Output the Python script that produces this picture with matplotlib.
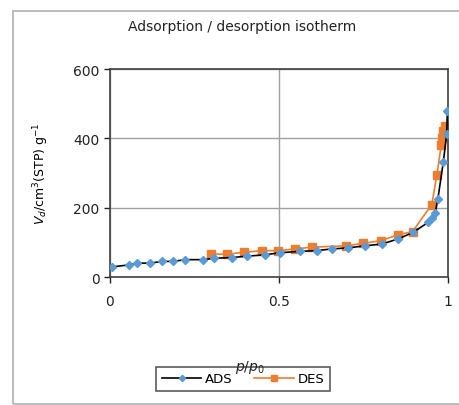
import matplotlib.pyplot as plt
from matplotlib.patches import Rectangle

# adsorption branch
ads_x = [0.005, 0.057, 0.081, 0.118, 0.155, 0.187, 0.222, 0.276, 0.308, 0.36, 0.404,
         0.459, 0.503, 0.562, 0.611, 0.656, 0.705, 0.754, 0.804, 0.853, 0.897, 0.942,
         0.952, 0.962, 0.97, 0.986, 0.996, 0.998]
ads_y = [29, 35, 40, 40, 45, 45, 50, 50, 54, 56, 60,
         64, 70, 74, 76, 81, 84, 90, 95, 110, 129, 158,
         170, 185, 225, 331, 412, 478]

# desorption branch
des_x = [0.299, 0.345, 0.396, 0.449, 0.498, 0.547, 0.598, 0.698, 0.75, 0.802, 0.853,
         0.895, 0.952, 0.967, 0.98, 0.983, 0.986, 0.99]
des_y = [66, 66, 71, 76, 76, 81, 86, 90, 97, 105, 122,
         131, 209, 294, 380, 400, 420, 436]

fig = plt.figure(figsize=(4.6, 4.06), dpi=100)
fig.patches.append(Rectangle((13/460, 1-405/406), 1.0, 393/406, transform=fig.transFigure,
                             fill=False, edgecolor='#b0b0b0', linewidth=1.2))

ax = fig.add_axes([110/460, 1-278/406, 338/460, 208/406])
ax.plot(ads_x, ads_y, color='black', lw=1.2, marker='D', ms=4,
        mfc='#5b9bd5', mec='#5b9bd5', label='ADS', zorder=3)
ax.plot(des_x, des_y, color='#ed7d31', lw=1.2, marker='s', ms=6,
        mfc='#ed7d31', mec='#ed7d31', label='DES', zorder=2)

ax.set_xlim(0, 1)
ax.set_ylim(0, 600)
ax.set_xticks([0, 0.5, 1])
ax.set_xticklabels(['0', '0.5', '1'])
ax.set_yticks([0, 200, 400, 600])
ax.grid(True, color='#a0a0a0', lw=1)
for s in ax.spines.values():
    s.set_color('#404040')
    s.set_linewidth(1.2)
ax.tick_params(labelsize=10, colors='#222222', length=4, width=1)
ax.tick_params(axis='x', pad=8)

ax.set_ylabel(r'$V_d$/cm$^3$(STP) g$^{-1}$', fontsize=9, labelpad=16)
fig.text(242/460, 1-27/406, 'Adsorption / desorption isotherm', ha='center', va='center',
         fontsize=10, color='#222222')
leg = ax.legend(loc='center', bbox_to_anchor=(243/460, 1-380/406), bbox_transform=fig.transFigure,
                ncol=2, fontsize=9.5, frameon=True, edgecolor='#333333', fancybox=False,
                handlelength=3.0, columnspacing=1.6, borderpad=0.45, handletextpad=0.3,
                markerscale=0.8)
leg.get_frame().set_linewidth(1.2)
fig.text(250/460, 1-368/406, r'$p/p_0$', ha='center', va='center', fontsize=10, color='#222222')

fig.savefig('out.png', dpi=100)
